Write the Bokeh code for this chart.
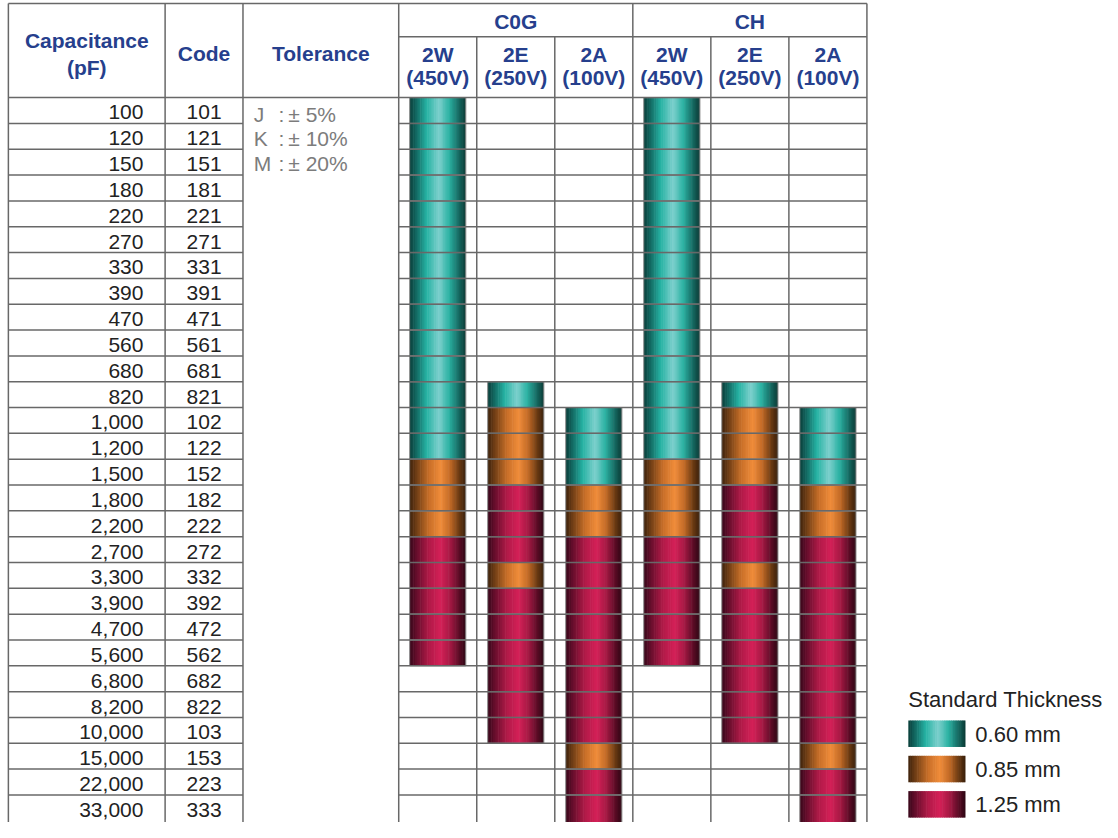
import numpy as np
from bokeh.plotting import figure
from bokeh.models import Range1d
from bokeh.embed import file_html
from bokeh.resources import INLINE
from bokeh.core.properties import value

# ---------------- data ----------------
capacitance = ["100", "120", "150", "180", "220", "270", "330", "390", "470", "560",
               "680", "820", "1,000", "1,200", "1,500", "1,800", "2,200", "2,700",
               "3,300", "3,900", "4,700", "5,600", "6,800", "8,200", "10,000",
               "15,000", "22,000", "33,000"]
codes = ["101", "121", "151", "181", "221", "271", "331", "391", "471", "561",
         "681", "821", "102", "122", "152", "182", "222", "272",
         "332", "392", "472", "562", "682", "822", "103",
         "153", "223", "333"]
tol_letters = ["J", "K", "M"]
tol_values = ["± 5%", "± 10%", "± 20%"]
groups = ["C0G", "CH"]
rating_codes = ["2W", "2E", "2A", "2W", "2E", "2A"]
rating_volts = ["(450V)", "(250V)", "(100V)", "(450V)", "(250V)", "(100V)"]
thickness_values = [0.60, 0.85, 1.25]
thickness_labels = ["0.60 mm", "0.85 mm", "1.25 mm"]

N = None
c0g_2w = [0.60, 0.60, 0.60, 0.60, 0.60, 0.60, 0.60, 0.60, 0.60, 0.60, 0.60, 0.60, 0.60, 0.60,
          0.85, 0.85, 0.85, 1.25, 1.25, 1.25, 1.25, 1.25, N, N, N, N, N, N]
c0g_2e = [N, N, N, N, N, N, N, N, N, N, N, 0.60, 0.85, 0.85,
          0.85, 1.25, 1.25, 1.25, 0.85, 1.25, 1.25, 1.25, 1.25, 1.25, 1.25, N, N, N]
c0g_2a = [N, N, N, N, N, N, N, N, N, N, N, N, 0.60, 0.60,
          0.60, 0.85, 0.85, 1.25, 1.25, 1.25, 1.25, 1.25, 1.25, 1.25, 1.25, 0.85, 1.25, 1.25]
ch_2w = [0.60, 0.60, 0.60, 0.60, 0.60, 0.60, 0.60, 0.60, 0.60, 0.60, 0.60, 0.60, 0.60, 0.60,
         0.85, 0.85, 0.85, 1.25, 1.25, 1.25, 1.25, 1.25, N, N, N, N, N, N]
ch_2e = [N, N, N, N, N, N, N, N, N, N, N, 0.60, 0.85, 0.85,
         0.85, 1.25, 1.25, 1.25, 0.85, 1.25, 1.25, 1.25, 1.25, 1.25, 1.25, N, N, N]
ch_2a = [N, N, N, N, N, N, N, N, N, N, N, N, 0.60, 0.60,
         0.60, 0.85, 0.85, 1.25, 1.25, 1.25, 1.25, 1.25, 1.25, 1.25, 1.25, 0.85, 1.25, 1.25]
columns = [c0g_2w, c0g_2e, c0g_2a, ch_2w, ch_2e, ch_2a]

# ---------------- styles ----------------
NAVY = "#263f8d"
GRID = "#686868"
TXT = "#222222"
FONT = "Liberation Sans"
gradients = {
    0.60: [(0.0, "#0a3e3a"), (0.12, "#136a63"), (0.30, "#26b2a3"), (0.52, "#7dd0cd"),
           (0.70, "#2bb2a3"), (0.88, "#156860"), (1.0, "#093833")],
    0.85: [(0.0, "#3e220c"), (0.14, "#774217"), (0.34, "#c76e28"), (0.55, "#f08c3a"),
           (0.72, "#c26a26"), (0.88, "#6b3a13"), (1.0, "#371e0a")],
    1.25: [(0.0, "#38071a"), (0.14, "#6c0f2e"), (0.34, "#b01a48"), (0.55, "#d42057"),
           (0.72, "#a61944"), (0.88, "#5c0c26"), (1.0, "#2c0612")],
}

def hex2rgb(h):
    return np.array([int(h[i:i + 2], 16) for i in (1, 3, 5)], dtype=float)

def grad_color(stops, t):
    for (p0, c0), (p1, c1) in zip(stops[:-1], stops[1:]):
        if p0 <= t <= p1:
            f = (t - p0) / (p1 - p0)
            c = hex2rgb(c0) * (1 - f) + hex2rgb(c1) * f
            return "#%02x%02x%02x" % tuple(int(round(v)) for v in c)
    return stops[-1][1]

# layout
X_LEFT = 8
CAP_R = 167
CODE_R = 246
TOL_R = 404
COL_W = (879 - 404) / 6
col_edges = [TOL_R + k * COL_W for k in range(7)]
Y_TOP = 3
Y_SUB = 37
Y_HEAD = 99
ROW_H = 26.33
BAR_HALF = 28.5
Y_END = 850

def row_top(r):
    return Y_HEAD + r * ROW_H

p = figure(width=1102, height=822, x_range=Range1d(0, 1118), y_range=Range1d(838, 0),
           output_backend="svg", toolbar_location=None, min_border=0,
           x_axis_type=None, y_axis_type=None)
p.grid.visible = False
p.outline_line_color = None
p.background_fill_color = "white"

NSTRIP = 32

def gradient_quads(x0, x1, y0, y1, thick, store):
    stops = gradients[thick]
    w = (x1 - x0) / NSTRIP
    for k in range(NSTRIP):
        t = (k + 0.5) / NSTRIP
        store["l"].append(x0 + k * w)
        store["r"].append(min(x0 + (k + 1) * w + 0.6, x1))
        store["t"].append(y0)
        store["b"].append(y1)
        store["c"].append(grad_color(stops, t))

strips = {"l": [], "r": [], "t": [], "b": [], "c": []}
outl = {"l": [], "r": [], "t": [], "b": []}
for ci, col in enumerate(columns):
    cx = (col_edges[ci] + col_edges[ci + 1]) / 2
    for r, th in enumerate(col):
        if th is None:
            continue
        y0 = row_top(r)
        y1 = row_top(r + 1)
        if r == len(col) - 1:
            y1 = Y_END
        gradient_quads(cx - BAR_HALF, cx + BAR_HALF, y0, y1, th, strips)
        outl["l"].append(cx - BAR_HALF)
        outl["r"].append(cx + BAR_HALF)
        outl["t"].append(y0)
        outl["b"].append(y1)

# legend swatches
leg_x0, leg_x1 = 921, 979
leg_tops = [734, 770, 806]
for th, yt in zip(thickness_values, leg_tops):
    gradient_quads(leg_x0, leg_x1, yt, yt + 27, th, strips)

p.quad(left=strips["l"], right=strips["r"], top=strips["t"], bottom=strips["b"],
       fill_color=strips["c"], line_color=None)
p.quad(left=outl["l"], right=outl["r"], top=outl["t"], bottom=outl["b"],
       fill_color=None, line_color="#8e8e8e", line_width=1)

# grid lines
sx0, sy0, sx1, sy1 = [], [], [], []
def seg(a, b, c, d):
    sx0.append(a); sy0.append(b); sx1.append(c); sy1.append(d)

for x in [X_LEFT, CAP_R, CODE_R, col_edges[0], col_edges[3], col_edges[6]]:
    seg(x, Y_TOP, x, Y_END)
for x in [col_edges[1], col_edges[2], col_edges[4], col_edges[5]]:
    seg(x, Y_SUB, x, Y_END)
seg(X_LEFT, Y_TOP, col_edges[6], Y_TOP)
seg(col_edges[0], Y_SUB, col_edges[6], Y_SUB)
seg(X_LEFT, Y_HEAD, col_edges[6], Y_HEAD)
for r in range(1, len(capacitance)):
    y = row_top(r)
    seg(X_LEFT, y, CODE_R, y)
    seg(col_edges[0], y, col_edges[6], y)
p.segment(x0=sx0, y0=sy0, x1=sx1, y1=sy1, line_color=GRID, line_width=1.5)

# header texts
hdr = dict(text_font=value(FONT), text_font_style="bold", text_font_size="21px",
           text_color=NAVY, text_align="center", text_baseline="middle")
cap_cx = (X_LEFT + CAP_R) / 2
p.text(x=[cap_cx, cap_cx], y=[41, 68], text=["Capacitance", "(pF)"], **hdr)
p.text(x=[(CAP_R + CODE_R) / 2], y=[54], text=["Code"], **hdr)
p.text(x=[(CODE_R + TOL_R) / 2], y=[54], text=["Tolerance"], **hdr)
p.text(x=[(col_edges[0] + col_edges[3]) / 2, (col_edges[3] + col_edges[6]) / 2],
       y=[21, 21], text=groups, **hdr)
ccx = [(col_edges[i] + col_edges[i + 1]) / 2 for i in range(6)]
p.text(x=ccx, y=[55] * 6, text=rating_codes, **hdr)
p.text(x=ccx, y=[79] * 6, text=rating_volts, **hdr)

# body texts
body = dict(text_font=value(FONT), text_font_size="21px", text_color=TXT,
            text_baseline="middle")
ry = [row_top(r) + ROW_H / 2 + 2 for r in range(len(capacitance))]
p.text(x=[145] * len(capacitance), y=ry, text=capacitance, text_align="right", **body)
p.text(x=[(CAP_R + CODE_R) / 2] * len(codes), y=ry, text=codes, text_align="center", **body)

tol = dict(text_font=value(FONT), text_font_size="21px", text_color="#7c7c7c",
           text_baseline="middle")
ty = [116, 141, 166]
p.text(x=[257] * 3, y=ty, text=tol_letters, text_align="left", **tol)
p.text(x=[282] * 3, y=ty, text=[":"] * 3, text_align="left", **tol)
p.text(x=[292] * 3, y=ty, text=tol_values, text_align="left", **tol)

# legend texts
p.text(x=[921], y=[713], text=["Standard Thickness"], text_align="left",
       text_font=value(FONT), text_font_size="22px", text_color=TXT, text_baseline="middle")
p.text(x=[989] * 3, y=[yt + 14 for yt in leg_tops], text=thickness_labels, text_align="left",
       text_font=value(FONT), text_font_size="22px", text_color=TXT, text_baseline="middle")

open("out.html", "w").write(file_html(p, INLINE))
